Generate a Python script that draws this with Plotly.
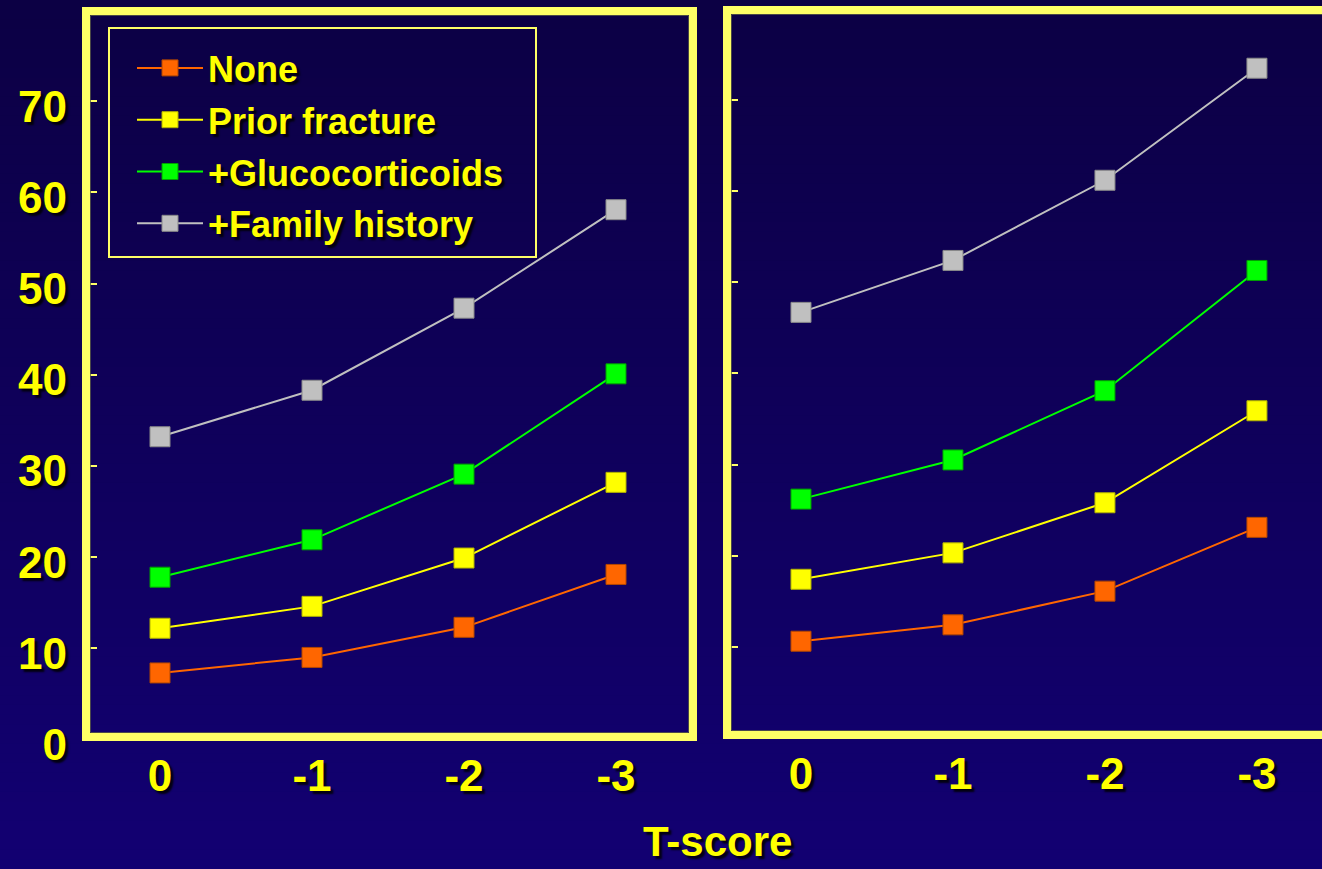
import plotly.graph_objects as go

# ---- data -------------------------------------------------------------
t_scores = ["0", "-1", "-2", "-3"]
series_names = ["None", "Prior fracture", "+Glucocorticoids", "+Family history"]

left_none = [7.3, 9.0, 12.3, 18.1]
left_prior = [12.2, 14.6, 19.9, 28.2]
left_gluco = [17.8, 21.9, 29.1, 40.1]
left_family = [33.2, 38.3, 47.3, 58.1]

right_none = [10.6, 12.4, 16.1, 23.1]
right_prior = [17.4, 20.3, 25.8, 35.9]
right_gluco = [26.2, 30.5, 38.1, 51.3]
right_family = [46.7, 52.4, 61.2, 73.5]

y_ticks = [0, 10, 20, 30, 40, 50, 60, 70]
x_title = "T-score"

# ---- styling ----------------------------------------------------------
W, H = 1322, 869
FONT = "Liberation Sans, Arial, sans-serif"
TEXT_YELLOW = "#ffff00"
FRAME_YELLOW = "#ffff66"
SHADOW = "3px 3px 2px rgba(0,0,0,0.85)"

line_colors = ["#ff6600", "#ffff00", "#00ff00", "#c0c0c0"]
edge_colors = ["#b34700", "#b3b300", "#00a000", "#8a8a8a"]


def px_x(p):
    return p / W


def px_y(p):
    return 1 - p / H


fig = go.Figure()

left_sets = [left_none, left_prior, left_gluco, left_family]
right_sets = [right_none, right_prior, right_gluco, right_family]

for i, name in enumerate(series_names):
    common = dict(
        mode="lines+markers",
        line=dict(color=line_colors[i], width=2),
        marker=dict(symbol="square", size=20, color=line_colors[i],
                    line=dict(color=edge_colors[i], width=1)),
        name=name,
        hoverinfo="x+y+name",
    )
    fig.add_trace(go.Scatter(x=t_scores, y=left_sets[i], xaxis="x", yaxis="y",
                             legendgroup=name, showlegend=True, **common))
    fig.add_trace(go.Scatter(x=t_scores, y=right_sets[i], xaxis="x2", yaxis="y2",
                             legendgroup=name, showlegend=False, **common))

# vertical background gradient built from thin horizontal bands
top_rgb = (12, 0, 68)
bot_rgb = (18, 0, 114)
n_bands = 90
shapes = []
for k in range(n_bands):
    f = k / (n_bands - 1)
    c = tuple(round(top_rgb[j] + (bot_rgb[j] - top_rgb[j]) * f) for j in range(3))
    shapes.append(dict(
        type="rect", xref="paper", yref="paper", layer="below",
        x0=0, x1=1, y0=1 - (k + 1) / n_bands - 0.002, y1=1 - k / n_bands,
        line=dict(width=0), fillcolor="rgb(%d,%d,%d)" % c,
    ))

# yellow panel frames (the right one runs off the page edge)
frames = [(86, 693, 11, 737), (727, 1345, 10, 735)]
for (x0, x1, y0, y1) in frames:
    shapes.append(dict(
        type="rect", xref="paper", yref="paper", layer="above",
        x0=px_x(x0), x1=px_x(x1), y0=px_y(y1), y1=px_y(y0),
        line=dict(color=FRAME_YELLOW, width=8), fillcolor="rgba(0,0,0,0)",
    ))
    shapes.append(dict(
        type="rect", xref="paper", yref="paper", layer="above",
        x0=px_x(x0 + 4.5), x1=px_x(x1 - 4.5), y0=px_y(y1 - 4.5), y1=px_y(y0 + 4.5),
        line=dict(color="rgba(90,90,70,0.8)", width=1), fillcolor="rgba(0,0,0,0)",
    ))

# thin yellow box around the legend
shapes.append(dict(
    type="rect", xref="paper", yref="paper", layer="above",
    x0=px_x(109), x1=px_x(536), y0=px_y(257), y1=px_y(28),
    line=dict(color=FRAME_YELLOW, width=2), fillcolor="rgba(0,0,0,0)",
))

tick_font = dict(family=FONT, size=44, color=TEXT_YELLOW, weight="bold", shadow=SHADOW)

xaxis_common = dict(
    type="category", categoryorder="array", categoryarray=t_scores,
    showgrid=False, zeroline=False, showline=False, ticks="",
    tickfont=tick_font, ticklabelstandoff=6, fixedrange=True,
)
yaxis_common = dict(
    range=[0, 80], tickvals=y_ticks, showgrid=False, zeroline=False,
    showline=False, ticks="inside", ticklen=13, tickwidth=2,
    tickcolor=FRAME_YELLOW, fixedrange=True,
)

fig.update_layout(
    width=W, height=H,
    margin=dict(l=0, r=0, t=0, b=0, pad=0, autoexpand=False),
    paper_bgcolor="rgb(14,0,90)",
    plot_bgcolor="rgba(0,0,0,0)",
    showlegend=True,
    xaxis=dict(domain=[px_x(84), px_x(692)], range=[-0.5, 3.5], anchor="y",
               **xaxis_common),
    yaxis=dict(domain=[px_y(739.5), px_y(10)], anchor="x",
               showticklabels=True, tickfont=tick_font, ticklabelstandoff=16,
               ticklabelshift=5, **yaxis_common),
    xaxis2=dict(domain=[px_x(725), 1.0], range=[-0.5, 3.428], anchor="y2",
                **xaxis_common),
    yaxis2=dict(domain=[px_y(737.8), px_y(9)], anchor="x2",
                showticklabels=False, **yaxis_common),
    legend=dict(
        x=px_x(132), y=px_y(38), xanchor="left", yanchor="top",
        bgcolor="rgba(0,0,0,0)", borderwidth=0,
        font=dict(family=FONT, size=36, color=TEXT_YELLOW, weight="bold",
                  shadow=SHADOW),
        itemwidth=66, traceorder="grouped", tracegroupgap=2,
    ),
    annotations=[dict(
        text=x_title, xref="paper", yref="paper",
        x=px_x(717), y=px_y(841), xanchor="center", yanchor="middle",
        showarrow=False,
        font=dict(family=FONT, size=42, color=TEXT_YELLOW, weight="bold",
                  shadow=SHADOW),
    )],
    shapes=shapes,
)

fig.write_html("out.html")
